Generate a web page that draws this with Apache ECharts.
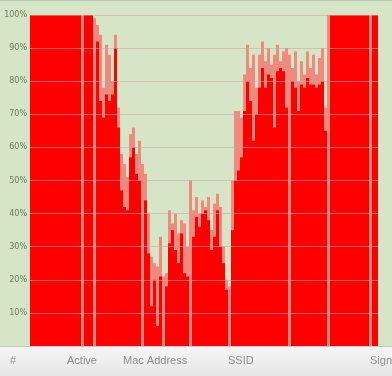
<!DOCTYPE html>
<html>
<head>
<meta charset="utf-8">
<script src="https://cdn.jsdelivr.net/npm/echarts@6/dist/echarts.min.js"></script>
<style>
html,body{margin:0;padding:0;background:#fff;}
#chart{width:392px;height:376px;}
</style>
</head>
<body>
<div id="chart"></div>
<script>
// Signal samples (percent). peak = highest reading in each slot, base = sustained level
const peak = [
  100,100,100,100,100,100,100,100,100,100,100,100,100,100,100,100,100,100,100,100,100,99,
  97,94,78,91,88,80,94,72,58,55,51,64,66,58,62,55,52,40,27,25,24,33,21,22,
  41,37,40,34,38,37,30,50,41,45,40,44,42,45,35,43,46,42,30,20,18,50,71,71,69,82,
  91,84,88,78,88,92,86,90,85,88,91,86,89,90,88,84,89,80,86,82,89,84,88,82,87,90,72,
  100,100,100,100,100,100,100,100,100,100,100,100,100,100,100,100,100
];
const base = [
  100,100,100,100,100,100,100,100,100,100,100,100,100,100,100,100,100,0,100,100,100,0,
  92,74,69,76,74,76,90,66,47,42,41,57,60,52,50,0,44,28,12,20,6,21,0,18,
  31,35,29,25,34,22,21,0,33,39,36,40,41,38,29,33,41,30,25,17,0,35,50,53,57,71,
  80,74,62,70,78,84,78,82,81,66,83,84,83,72,0,80,78,71,79,78,81,79,79,78,79,80,65,
  0,100,100,100,100,100,100,100,100,100,100,100,100,100,0,100,100
];
const slots = peak.map((_, i) => String(i + 1));
const headerLabels = ['#', 'Active', 'Mac Address', 'SSID', 'Sign'];
const headerX = [10, 67, 123, 228, 370];

const chart = echarts.init(document.getElementById('chart'), null, {renderer: 'canvas'});
chart.setOption({
  animation: false,
  backgroundColor: '#d5e5c6',
  grid: {left: 30, right: 14, top: 15, bottom: 30},
  xAxis: {
    type: 'category', data: slots, show: false, boundaryGap: true
  },
  yAxis: {
    type: 'value', min: 0, max: 100, interval: 10, z: 10,
    axisLine: {show: false}, axisTick: {show: false},
    axisLabel: {
      color: '#6b7d62', fontSize: 8, fontFamily: 'DejaVu Sans', margin: 3,
      formatter: v => (v === 0 ? '' : v + '%')
    },
    splitLine: {lineStyle: {color: 'rgba(195,170,160,0.55)', width: 1}}
  },
  series: [
    {
      type: 'bar', data: peak, barWidth: '100%', barGap: '-100%', barCategoryGap: '0%',
      itemStyle: {color: '#ef8a7e'}, silent: true, z: 2
    },
    {
      type: 'bar', data: base, barWidth: '100%', barGap: '-100%', barCategoryGap: '0%',
      itemStyle: {color: '#ff0000'}, silent: true, z: 3
    }
  ],
  graphic: [
    {type: 'rect', left: 0, top: 0, shape: {width: 392, height: 1}, style: {fill: '#b9c6b0'}, z: 20},
    {type: 'rect', left: 0, top: 346, shape: {width: 392, height: 30},
      style: {fill: new echarts.graphic.LinearGradient(0, 0, 0, 1, [
        {offset: 0, color: '#f6f6f6'}, {offset: 1, color: '#e6e6e6'}])}, z: 20},
    {type: 'rect', left: 0, top: 346, shape: {width: 392, height: 1}, style: {fill: '#c9c9c9'}, z: 21}
  ].concat(headerLabels.map((t, i) => ({
    type: 'text', left: headerX[i], top: 355, z: 22,
    style: {text: t, fill: '#8e8e8e', font: '11px "Liberation Sans", Arial, sans-serif'}
  })))
});
</script>
</body>
</html>
